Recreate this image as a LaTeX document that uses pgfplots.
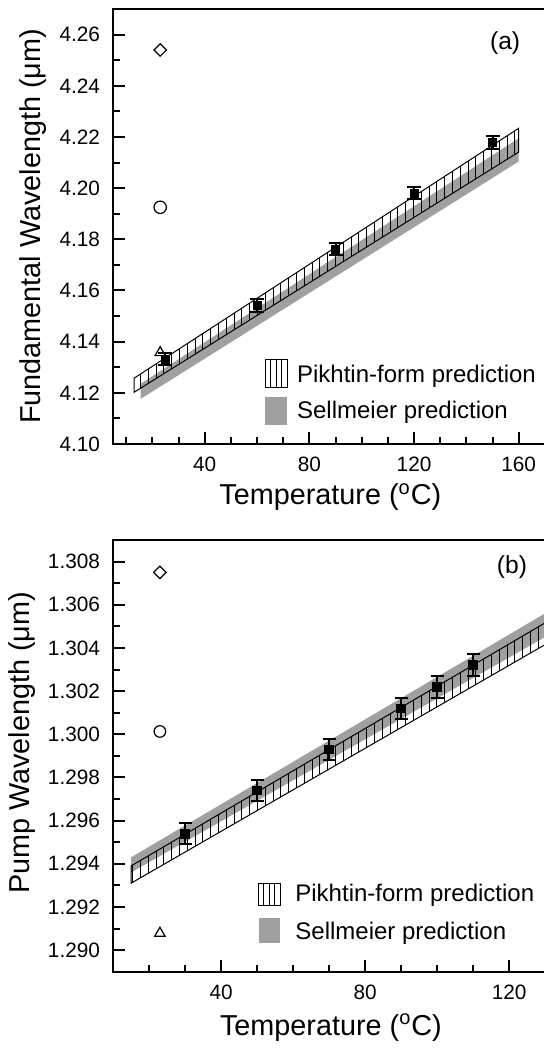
\documentclass[border=0pt]{standalone}
\usepackage{fontspec}
\setmainfont{Liberation Sans}
\usepackage{pgfplots}
\pgfplotsset{compat=1.18}
\usetikzlibrary{patterns.meta}
\definecolor{bandgray}{RGB}{160,160,160}

\pgfplotsset{
  myaxis/.style={
    scale only axis,
    axis line style={line width=1pt},
    every tick/.style={line width=1pt, black},
    tick align=inside,
    major tick length=6pt,
    minor tick length=3.5pt,
    tick pos=left,
    tick label style={font=\fontsize{10.4}{12}\selectfont},
    /pgf/number format/assume math mode=true,
    yticklabel style={xshift=-3pt},
    xticklabel style={yshift=-3pt},
    clip=true,
  },
  pik/.style={draw=black, line width=0.5pt,
      pattern={Lines[angle=90,distance=3.9pt,line width=0.5pt]}, pattern color=black},
  sell/.style={fill=bandgray, draw=none},
  datapts/.style={black, only marks, mark=square*, mark size=2pt,
      error bars/y dir=both, error bars/y explicit,
      error bars/error bar style={line width=1pt, black},
      error bars/error mark options={rotate=90, mark size=3.5pt, line width=1pt, black}},
}
\newcommand{\labfont}{\fontsize{14.4}{17}\selectfont}
\newcommand{\legfont}{\fontsize{12}{14}\selectfont}

\begin{document}
\begin{tikzpicture}
% ---------------- panel (a) ----------------
\begin{axis}[myaxis,
  at={(56.55pt,302pt)}, anchor=south west,
  width=217.2pt, height=217.5pt,
  xmin=5, xmax=171, ymin=4.10, ymax=4.27,
  xtick={40,80,120,160},
  minor xtick={10,20,30,50,60,70,90,100,110,130,140,150},
  ytick={4.10,4.12,4.14,4.16,4.18,4.20,4.22,4.24,4.26},
  minor ytick={4.11,4.13,4.15,4.17,4.19,4.21,4.23,4.25},
  yticklabel style={/pgf/number format/.cd, fixed, fixed zerofill, precision=2},
  xlabel={Temperature (\textsuperscript{o}C)},
  ylabel={Fundamental Wavelength (μm)},
  every axis x label/.style={at={(axis description cs:0.5,0)}, anchor=center, yshift=-26.5pt, font=\labfont},
  every axis y label/.style={at={(axis description cs:-0.184,0.5)}, anchor=center, rotate=90, font=\labfont},
]
\addplot[sell] coordinates {(15.5,4.1176) (160,4.2104) (160,4.2195) (15.5,4.1235)} -- cycle;
\addplot[pik] coordinates {(13,4.1202) (160,4.2141) (160,4.2234) (13,4.1257)} -- cycle;
\addplot[datapts] table[x=x, y=y, y error=e] {
x y e
25 4.1331 0.0024
60 4.1541 0.0024
90 4.1761 0.0024
120 4.1980 0.0024
150 4.2178 0.0024
};
\addplot[black, only marks, mark=square, mark size=2.2pt, mark options={rotate=45, line width=0.6pt}] coordinates {(23,4.254)};
\addplot[black, only marks, mark=o, mark size=3.1pt, mark options={line width=0.6pt}] coordinates {(23,4.1925)};
\addplot[black, only marks, mark=triangle, mark size=3pt, mark options={line width=0.6pt}] coordinates {(23,4.1357)};
% legend
\draw[line width=0.5pt] (axis description cs:0.3506,0.1310) rectangle (axis description cs:0.4010,0.1931);
\draw[line width=0.5pt] (axis description cs:0.3632,0.1310) -- (axis description cs:0.3632,0.1931)
  (axis description cs:0.3758,0.1310) -- (axis description cs:0.3758,0.1931)
  (axis description cs:0.3884,0.1310) -- (axis description cs:0.3884,0.1931);
\fill[bandgray] (axis description cs:0.3506,0.0437) rectangle (axis description cs:0.4010,0.1080);
\node[anchor=west, inner sep=0pt, font=\legfont] at (axis description cs:0.4227,0.1563) {Pikhtin-form prediction};
\node[anchor=west, inner sep=0pt, font=\legfont] at (axis description cs:0.4227,0.0720) {Sellmeier prediction};
\node[font=\fontsize{12.3}{14}\selectfont] at (axis cs:154.8,4.2566) {(a)};
\end{axis}
% ---------------- panel (b) ----------------
\begin{axis}[myaxis,
  at={(56.55pt,38.15pt)}, anchor=south west,
  width=217.8pt, height=215.85pt,
  xmin=10, xmax=131, ymin=1.289, ymax=1.309,
  xtick={40,80,120},
  minor xtick={20,30,50,60,70,90,100,110},
  ytick={1.290,1.292,1.294,1.296,1.298,1.300,1.302,1.304,1.306,1.308},
  minor ytick={1.291,1.293,1.295,1.297,1.299,1.301,1.303,1.305,1.307},
  yticklabel style={/pgf/number format/.cd, fixed, fixed zerofill, precision=3},
  xlabel={Temperature (\textsuperscript{o}C)},
  ylabel={Pump Wavelength (μm)},
  every axis x label/.style={at={(axis description cs:0.5,0)}, anchor=center, yshift=-28pt, font=\labfont},
  every axis y label/.style={at={(axis description cs:-0.208,0.53)}, anchor=center, rotate=90, font=\labfont},
]
\addplot[sell] coordinates {(15,1.2936) (131,1.3046) (131,1.3057) (15,1.2943)} -- cycle;
\addplot[pik] coordinates {(15,1.2931) (131,1.30425) (131,1.30526) (15,1.2939)} -- cycle;
\addplot[datapts, mark size=2.2pt, error bars/error mark options={rotate=90, mark size=3.3pt, line width=1pt, black}] table[x=x, y=y, y error=e] {
x y e
30 1.2954 0.0005
50 1.2974 0.0005
70 1.2993 0.0005
90 1.3012 0.0005
100 1.3022 0.0005
110 1.3032 0.0005
};
\addplot[black, only marks, mark=square, mark size=2.2pt, mark options={rotate=45, line width=0.6pt}] coordinates {(23,1.3075)};
\addplot[black, only marks, mark=o, mark size=2.9pt, mark options={line width=0.6pt}] coordinates {(23,1.30013)};
\addplot[black, only marks, mark=triangle, mark size=3pt, mark options={line width=0.6pt}] coordinates {(23,1.29078)};
% legend
\draw[line width=0.5pt] (axis description cs:0.3338,0.1529) rectangle (axis description cs:0.3841,0.2048);
\draw[line width=0.5pt] (axis description cs:0.3464,0.1529) -- (axis description cs:0.3464,0.2048)
  (axis description cs:0.3590,0.1529) -- (axis description cs:0.3590,0.2048)
  (axis description cs:0.3715,0.1529) -- (axis description cs:0.3715,0.2048);
\fill[bandgray] (axis description cs:0.3338,0.0658) rectangle (axis description cs:0.3841,0.1237);
\node[anchor=west, inner sep=0pt, font=\legfont] at (axis description cs:0.4176,0.1777) {Pikhtin-form prediction};
\node[anchor=west, inner sep=0pt, font=\legfont] at (axis description cs:0.4176,0.0890) {Sellmeier prediction};
\node[font=\fontsize{12.3}{14}\selectfont] at (axis cs:120.8,1.30774) {(b)};
\end{axis}
\pgfresetboundingbox
\useasboundingbox (0pt,0pt) rectangle (272pt,524pt);
\end{tikzpicture}
\end{document}
